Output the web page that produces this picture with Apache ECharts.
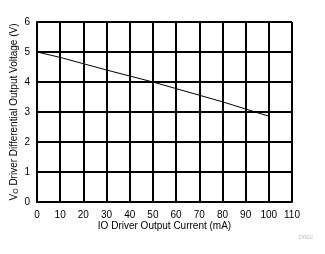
<!DOCTYPE html>
<html><head><meta charset="utf-8">
<script src="https://cdn.jsdelivr.net/npm/echarts@6/dist/echarts.min.js"></script>
<style>html,body{margin:0;padding:0;background:#fff}#c{width:325px;height:254px}</style>
</head><body><div id="c"></div>
<script>
const currents = [0,10,20,30,40,50,60,70,80,90,100];
const voltages = [5.0,4.82,4.61,4.4,4.2,4.0,3.78,3.56,3.34,3.1,2.86];
const xTicks = [0,10,20,30,40,50,60,70,80,90,100,110];
const yTicks = [0,1,2,3,4,5,6];
const chart = echarts.init(document.getElementById('c'), null, {renderer:'canvas'});
const font = 'Liberation Sans';
chart.setOption({
  animation:false,
  grid:{left:37,right:33,top:22,bottom:52,containLabel:false,outerBoundsMode:'none'},
  xAxis:{type:'value',min:0,max:110,interval:10,
    name:'IO Driver Output Current (mA)',nameLocation:'middle',nameGap:19,nameMoveOverlap:false,
    nameTextStyle:{fontFamily:font,fontSize:10,color:'#000'},
    axisLine:{lineStyle:{color:'#000',width:2}},axisTick:{show:false},
    axisLabel:{fontFamily:font,fontSize:10,color:'#000',margin:8},
    splitLine:{show:true,lineStyle:{color:'#000',width:2}}},
  yAxis:{type:'value',min:0,max:6,interval:1,
    name:'V{sub|O} Driver Differential Output Voltage (V)',nameLocation:'middle',nameGap:17,nameMoveOverlap:false,
    nameTextStyle:{fontFamily:font,fontSize:10,color:'#000',
      rich:{sub:{fontFamily:font,fontSize:7,color:'#000',verticalAlign:'bottom',padding:[4,0,0,0]}}},
    axisLine:{show:true,lineStyle:{color:'#000',width:2}},axisTick:{show:false},
    axisLabel:{fontFamily:font,fontSize:10,color:'#000',margin:7},
    splitLine:{show:true,lineStyle:{color:'#000',width:2}}},
  graphic:[{type:'text',right:12,top:234,style:{text:'D002',fontFamily:font,fontSize:6,fill:'#bbb'}}],
  series:[{type:'line',data:currents.map((c,i)=>[c,voltages[i]]),symbol:'none',
    lineStyle:{color:'#000',width:1}}]
});
</script></body></html>
